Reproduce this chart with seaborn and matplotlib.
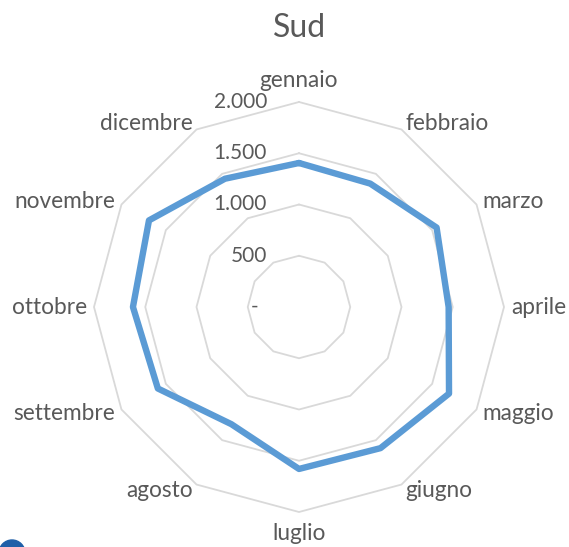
import numpy as np
import matplotlib
matplotlib.use("Agg")
import matplotlib.pyplot as plt
import seaborn as sns
from matplotlib.patches import Circle
from matplotlib.transforms import ScaledTranslation

# Data
months = ["gennaio", "febbraio", "marzo", "aprile", "maggio", "giugno",
          "luglio", "agosto", "settembre", "ottobre", "novembre", "dicembre"]
values = [1405, 1390, 1550, 1460, 1690, 1590, 1580, 1320, 1590, 1620, 1690, 1445]
grid_levels = [500, 1000, 1500, 2000]
tick_labels = ["500", "1.000", "1.500", "2.000"]

sns.set_style("white")
plt.rcParams['font.family'] = ['Lato', 'DejaVu Sans']
text_col = "#595959"
grid_col = "#D9D9D9"
line_col = "#5B9BD5"

W, H = 569, 547
fig = plt.figure(figsize=(W / 100, H / 100), dpi=100)

cx, cy, R = 299, 307, 205
ax = fig.add_axes([(cx - R) / W, (H - cy - R) / H, 2 * R / W, 2 * R / H], projection="polar")
ax.set_theta_zero_location("N")
ax.set_theta_direction(-1)
ax.set_ylim(0, 2000)
ax.grid(False)
ax.spines["polar"].set_visible(False)
ax.set_xticks([])
ax.set_yticks([])
ax.patch.set_alpha(0)

n = len(months)
theta = np.arange(n) * 2 * np.pi / n
theta_c = np.append(theta, 2 * np.pi)

# polygon gridlines
for lev in grid_levels:
    ax.plot(theta_c, [lev] * (n + 1), color=grid_col, lw=1.3, zorder=1, clip_on=False)

# data series (closed loop)
vals_c = values + values[:1]
sns.lineplot(x=theta_c, y=vals_c, sort=False, estimator=None, ax=ax, color=line_col,
             lw=4.6, zorder=3, legend=False)
ax.set_xlabel("")
ax.set_ylabel("")

# radial value labels
for lev, lab in zip(grid_levels, tick_labels):
    tr = ax.transData + ScaledTranslation(-0.32, 0, fig.dpi_scale_trans)
    ax.text(0, lev, lab, ha="right", va="center", fontsize=15, color=text_col, transform=tr)
tr0 = ax.transData + ScaledTranslation(-0.44, 0, fig.dpi_scale_trans)
ax.text(0, 0, "-", ha="center", va="center", fontsize=15, color=text_col, transform=tr0)

# month labels
off = 0.07
for t, m in zip(theta, months):
    s, c = np.sin(t), np.cos(t)
    if s > 0.01:
        ha = "left"
    elif s < -0.01:
        ha = "right"
    else:
        ha = "center"
    if abs(s) < 0.01:
        va = "bottom" if c > 0 else "top"
    else:
        va = "center"
    dx, dy = off * s, off * c
    if abs(s) < 0.01:
        dy = 0.11 * c
    tr = ax.transData + ScaledTranslation(dx, dy, fig.dpi_scale_trans)
    ax.text(t, 2000, m, ha=ha, va=va, fontsize=16.3, color=text_col, transform=tr)

fig.text(300 / W, 1 - 28 / H, "Sud", ha="center", va="center", fontsize=23, color=text_col)

# partial marker at bottom-left corner
circ = Circle((12, H - 553), 13, transform=None, color="#1F5FA8", zorder=10)
fig.patches.append(circ)

fig.savefig("out.png", dpi=100)
